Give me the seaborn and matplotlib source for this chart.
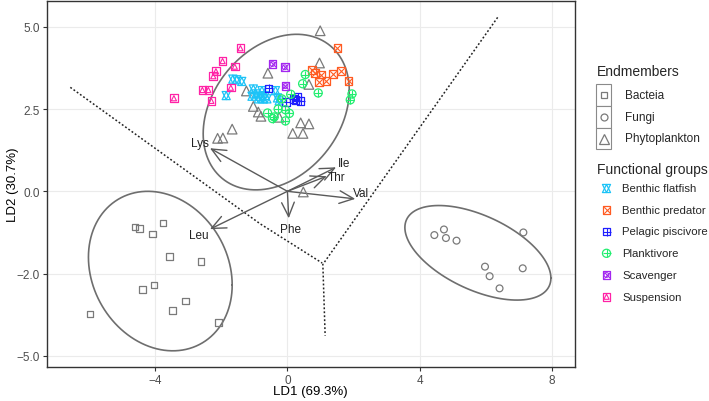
import numpy as np
import pandas as pd
import seaborn as sns
import matplotlib
matplotlib.use("Agg")
import matplotlib.pyplot as plt
from matplotlib.lines import Line2D
from matplotlib.patches import Rectangle

# ---------------- data ----------------
bacteria_x = [-4.60, -4.47, -3.76, -4.07, -3.56, -2.61, -4.03, -4.38, -3.08, -3.47, -5.97, -2.09]
bacteria_y = [-1.08, -1.13, -0.97, -1.30, -1.98, -2.13, -2.85, -2.98, -3.33, -3.63, -3.73, -3.98]
fungi_x = [4.44, 4.73, 4.79, 5.11, 5.97, 6.11, 6.41, 7.13, 7.11]
fungi_y = [-1.33, -1.16, -1.42, -1.50, -2.29, -2.58, -2.95, -1.25, -2.34]
phyto_x = [0.99, 0.97, -0.59, -1.24, 0.65, -1.03, -0.88, -0.80, 0.40, 0.65, 0.16, 0.47,
           -1.67, -2.11, -1.95, -0.25, 0.48]
phyto_y = [4.88, 3.90, 3.59, 3.05, 3.25, 2.58, 2.41, 2.28, 2.08, 2.05, 1.76, 1.76,
           1.89, 1.61, 1.62, 2.25, -0.02]

flatfish_x = [-1.65, -1.53, -1.38, -1.85, -1.03, -0.95, -0.82, -0.73, -0.88, -0.67, -0.77,
              -1.07, -0.62, -0.36, -0.30, -0.25]
flatfish_y = [3.41, 3.39, 3.34, 2.91, 3.11, 2.96, 2.89, 2.81, 2.81, 2.91, 3.06,
              2.89, 2.81, 3.06, 2.84, 2.75]
predator_x = [1.51, 0.74, 0.83, 1.02, 0.95, 1.18, 1.38, 1.61, 1.85]
predator_y = [4.35, 3.69, 3.60, 3.55, 3.32, 3.36, 3.57, 3.65, 3.36]
piscivore_x = [-0.57, -0.04, 0.18, 0.31, 0.40, 0.25]
piscivore_y = [3.13, 2.72, 2.81, 2.86, 2.75, 2.78]
planktivore_x = [0.54, 0.46, 0.93, 1.95, 1.90, 0.10, -0.17, -0.28, -0.06, 0.06, -0.60, -0.40, -0.45, -0.06]
planktivore_y = [3.55, 3.27, 2.99, 2.96, 2.78, 2.95, 2.81, 2.50, 2.48, 2.37, 2.38, 2.26, 2.21, 2.14]
scavenger_x = [-0.45, -0.08, -0.06]
scavenger_y = [3.87, 3.77, 3.20]
suspension_x = [-1.42, -1.96, -2.16, -2.24, -1.59, -1.71, -2.57, -2.39, -3.43, -2.30]
suspension_y = [4.35, 3.96, 3.65, 3.50, 3.79, 3.15, 3.08, 3.08, 2.83, 2.75]

aa_names = ["Lys", "Leu", "Val", "Phe", "Ile", "Thr"]
aa_x = [-2.34, -2.34, 2.05, 0.04, 1.47, 1.19]
aa_y = [1.31, -1.15, -0.23, -0.82, 0.73, 0.46]

# LDA decision boundaries (vertices)
bound_left_x = [-6.56, -0.82, 1.05]
bound_left_y = [3.16, -0.99, -2.18]
bound_right_x = [1.12, 6.39]
bound_right_y = [-2.15, 5.34]
bound_bottom_x = [1.07, 1.14]
bound_bottom_y = [-2.20, -4.39]

endmember_names = ["Bacteia", "Fungi", "Phytoplankton"]
group_names = ["Benthic flatfish", "Benthic predator", "Pelagic piscivore",
               "Planktivore", "Scavenger", "Suspension"]
xticks = [-4, 0, 4, 8]
yticks = [5, 2.5, 0, -2.5, -5]
ytick_labels = ["5.0", "2.5", "0.0", "\u22122.0", "\u22125.0"]

# ---------------- style ----------------
sns.set_theme(style="white")
plt.rcParams["font.family"] = ["Liberation Sans", "DejaVu Sans"]

GREY = "#7a7a7a"
col = {"Benthic flatfish": "#1cc3f7", "Benthic predator": "#ff5b22",
       "Pelagic piscivore": "#1f1fff", "Planktivore": "#22ee70",
       "Scavenger": "#a326f0", "Suspension": "#ff22a6"}

W, H = 709, 402
fig = plt.figure(figsize=(W / 100, H / 100), dpi=100)
L, R, B, T = 46.5, 575, 368, 1.5
ax = fig.add_axes([L / W, 1 - B / H, (R - L) / W, (B - T) / H])
ax.set_xlim(-7.28, 8.69)
ax.set_ylim(-5.34, 5.80)

for v in xticks:
    ax.axvline(v, color="#ebebeb", lw=0.8, zorder=0)
for v in yticks:
    ax.axhline(v, color="#ebebeb", lw=0.8, zorder=0)


def ellipse(xs, ys, level=0.90, seg=120):
    """Normal-theory confidence ellipse (sample covariance, chi-square radius)."""
    xy = np.column_stack([xs, ys])
    center = xy.mean(0)
    cov = np.cov(xy.T)
    radius = np.sqrt(-2 * np.log(1 - level))
    ang = np.linspace(0, 2 * np.pi, seg + 1)
    uc = np.column_stack([np.cos(ang), np.sin(ang)])
    Lc = np.linalg.cholesky(cov)
    e = center + radius * (uc @ Lc.T)
    return e[:, 0], e[:, 1]


for xs, ys in [(bacteria_x, bacteria_y), (fungi_x, fungi_y), (phyto_x, phyto_y)]:
    ex, ey = ellipse(np.array(xs), np.array(ys))
    sns.lineplot(x=ex, y=ey, sort=False, estimator=None, color="#6e6e6e", lw=1.2, ax=ax)

for bx, by in [(bound_left_x, bound_left_y), (bound_right_x, bound_right_y),
               (bound_bottom_x, bound_bottom_y)]:
    sns.lineplot(x=bx, y=by, sort=False, estimator=None, color="#222222", lw=1.1,
                 dashes=False, ax=ax, linestyle=(0, (1.2, 1.4)))

# arrows
for name, tx, ty in zip(aa_names, aa_x, aa_y):
    ax.annotate("", xy=(tx, ty), xytext=(0, 0),
                arrowprops=dict(arrowstyle="->,head_length=0.85,head_width=0.38",
                                color="#5a5a5a", lw=1.0, shrinkA=0, shrinkB=0))
nudge = {"Lys": (0, 0), "Leu": (-1, -1), "Val": (-2, 5), "Phe": (1.5, -5),
         "Ile": (1, 0.5), "Thr": (3.5, -2)}
for name, tx, ty in zip(aa_names, aa_x, aa_y):
    ax.annotate(name, xy=(tx * 1.13, ty * 1.13), xytext=nudge[name], textcoords="offset points",
                ha="center", va="center", fontsize=8.5, color="#222222")

def open_pts(xs, ys, marker, s, color, lw=0.9, ax=ax):
    sns.scatterplot(x=xs, y=ys, marker=marker, s=s, facecolor="none", edgecolor=color,
                    linewidth=lw, ax=ax, zorder=4)

def line_pts(xs, ys, marker, s, color, lw=0.9, ax=ax):
    sns.scatterplot(x=xs, y=ys, marker=marker, s=s, color=color, linewidth=lw, ax=ax, zorder=4)

open_pts(bacteria_x, bacteria_y, "s", 22, GREY)
open_pts(fungi_x, fungi_y, "o", 24, GREY)
open_pts(phyto_x, phyto_y, "^", 48, GREY)

def draw_group(name, xs, ys, axx=ax):
    c = col[name]
    if name == "Benthic flatfish":
        open_pts(xs, ys, "^", 34, c, ax=axx); open_pts(xs, ys, "v", 34, c, ax=axx)
    elif name == "Benthic predator":
        open_pts(xs, ys, "s", 30, c, ax=axx); line_pts(xs, ys, "x", 22, c, lw=0.8, ax=axx)
    elif name == "Pelagic piscivore":
        open_pts(xs, ys, "s", 30, c, ax=axx); line_pts(xs, ys, "+", 30, c, lw=0.8, ax=axx)
    elif name == "Planktivore":
        open_pts(xs, ys, "o", 34, c, ax=axx); line_pts(xs, ys, "+", 34, c, lw=0.8, ax=axx)
    elif name == "Scavenger":
        open_pts(xs, ys, "s", 30, c, ax=axx); line_pts(xs, ys, "x", 20, c, lw=0.8, ax=axx)
        open_pts(xs, ys, "o", 12, c, lw=0.7, ax=axx)
    elif name == "Suspension":
        open_pts(xs, ys, "s", 30, c, ax=axx); open_pts(xs, ys, "^", 14, c, lw=0.8, ax=axx)

groups = [(flatfish_x, flatfish_y), (predator_x, predator_y), (piscivore_x, piscivore_y),
          (planktivore_x, planktivore_y), (scavenger_x, scavenger_y), (suspension_x, suspension_y)]
for name, (xs, ys) in zip(group_names, groups):
    draw_group(name, xs, ys)

ax.set_xticks(xticks)
ax.set_xticklabels([str(v) if v >= 0 else "\u2212" + str(-v) for v in xticks])
ax.set_yticks(yticks)
ax.set_yticklabels(ytick_labels)
ax.tick_params(axis="both", length=3, width=0.8, color="#333333", labelcolor="#4d4d4d",
               labelsize=8.5, pad=2, bottom=True, left=True)
for sp in ax.spines.values():
    sp.set_color("#333333")
    sp.set_linewidth(1.0)
ax.set_xlabel("LD1 (69.3%)", fontsize=9.5, color="black")
ax.set_ylabel("LD2 (30.7%)", fontsize=9.5, color="black")
ax.xaxis.set_label_coords(0.5, -(385.5 - B) / (B - T))
ax.yaxis.set_label_coords(-(L - 19) / (R - L), 0.5)

# ---------------- legends (manual) ----------------
def fx(px):
    return px / W

def fy(py):
    return 1 - py / H

fig.text(fx(597), fy(72), "Endmembers", fontsize=10, ha="left", va="center")
em_marks = [("s", 5.0), ("o", 5.0), ("^", 6.5)]
em_y = [96, 118, 139.5]
for (m, ms), yy, nm in zip(em_marks, em_y, endmember_names):
    fig.add_artist(Rectangle((fx(596), fy(yy + 10.8)), 15 / W, 21.6 / H, transform=fig.transFigure,
                             facecolor="white", edgecolor="#8a8a8a", lw=0.8))
    fig.add_artist(Line2D([fx(603.5)], [fy(yy)], marker=m, markersize=ms, mfc="none",
                          mec=GREY, mew=0.9, transform=fig.transFigure))
    fig.text(fx(625), fy(yy), nm, fontsize=8.5, ha="left", va="center")

fig.text(fx(597), fy(170), "Functional groups", fontsize=10, ha="left", va="center")
leg_ax = fig.add_axes([0, 0, 1, 1], facecolor="none")
leg_ax.set_xlim(0, W)
leg_ax.set_ylim(H, 0)
leg_ax.set_axis_off()
gy = [189.5, 211, 232.5, 254.3, 276, 297.7]
for name, yy in zip(group_names, gy):
    draw_group(name, [606.5], [yy], axx=leg_ax)
    fig.text(fx(622), fy(yy), name, fontsize=8.2, ha="left", va="center")

fig.savefig("out.png", dpi=100)
